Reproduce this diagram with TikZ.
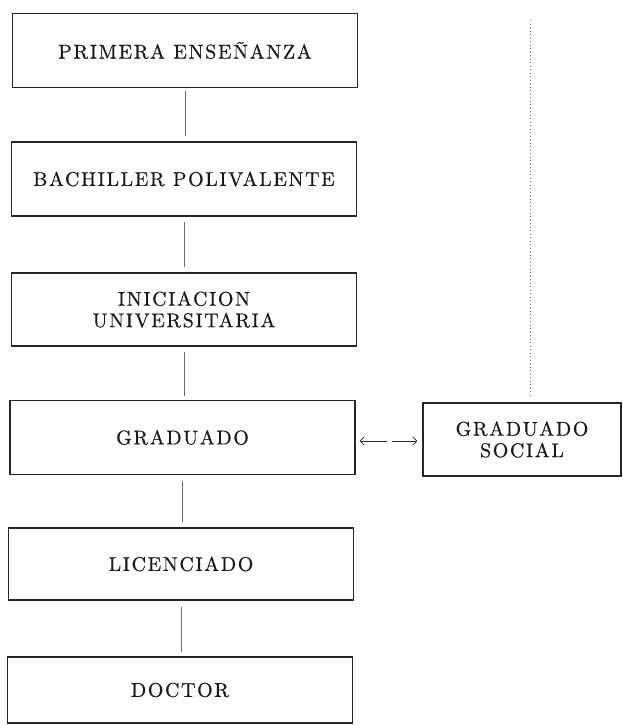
\documentclass[tikz,border=0pt]{standalone}
\usepackage{fontspec}
\setmainfont{lmroman10-regular.otf}[LetterSpace=8,FakeBold=0.5]
\usetikzlibrary{arrows.meta,calc}
\begin{document}
\begin{tikzpicture}[x=1pt,y=-1pt,
  box/.style={draw=black!85, line width=1.2pt, minimum width=345pt, minimum height=74pt,
    align=center, inner sep=0pt, font=\fontsize{20}{21.5}\selectfont, text=black!90},
  conn/.style={draw=black!60, line width=0.6pt},
  dotline/.style={draw=black!60, line width=0.9pt, dash pattern=on 0.9pt off 2.6pt},
  arr/.style={draw=black!85, line width=0.8pt, -{Straight Barb[length=4pt,width=8pt]}}]
\useasboundingbox (0,0) rectangle (623,726);
\fill[white] (0,0) rectangle (623,726);
\node[box] (pe) at (185,50.5) {PRIMERA ENSEÑANZA};
\node[box] (bp) at (184,179) {BACHILLER POLIVALENTE};
\node[box, minimum height=73pt] (iu) at (184,309.5) {INICIACION\\UNIVERSITARIA};
\node[box] (gr) at (182.5,437.5) {GRADUADO};
\node[box, minimum height=72pt] (li) at (181,564) {LICENCIADO};
\node[box, minimum height=66pt] (dr) at (180,690) {DOCTOR};
\node[box, minimum width=198pt, minimum height=73pt] (gs) at (522,439.5) {GRADUADO\\SOCIAL};
% connectors
\draw[conn] ($(pe.south)+(0,3)$) -- ($(pe.south |- bp.north)+(0,-5)$);
\draw[conn] ($(bp.south)+(0,5)$) -- ($(bp.south |- iu.north)+(0,-5)$);
\draw[conn] ($(iu.south)+(0,5)$) -- ($(iu.south |- gr.north)+(0,-4)$);
\draw[conn] ($(gr.south)+(0,6)$) -- ($(gr.south |- li.north)+(0,-5)$);
\draw[conn] ($(li.south)+(0,6)$) -- ($(li.south |- dr.north)+(0,-4)$);
% dotted line
\coordinate (dtop) at (530,20);
\draw[dotline] (dtop) -- ($(dtop |- gs.north)+(0,-5)$);
% double arrow
\coordinate (m) at (389.5,441);
\draw[arr] ($(m)+(-2.5,0)$) -- ($(gr.east |- m)+(4,0)$);
\draw[arr] ($(m)+(2.5,0)$) -- ($(gs.west |- m)+(-5,0)$);
\end{tikzpicture}
\end{document}
